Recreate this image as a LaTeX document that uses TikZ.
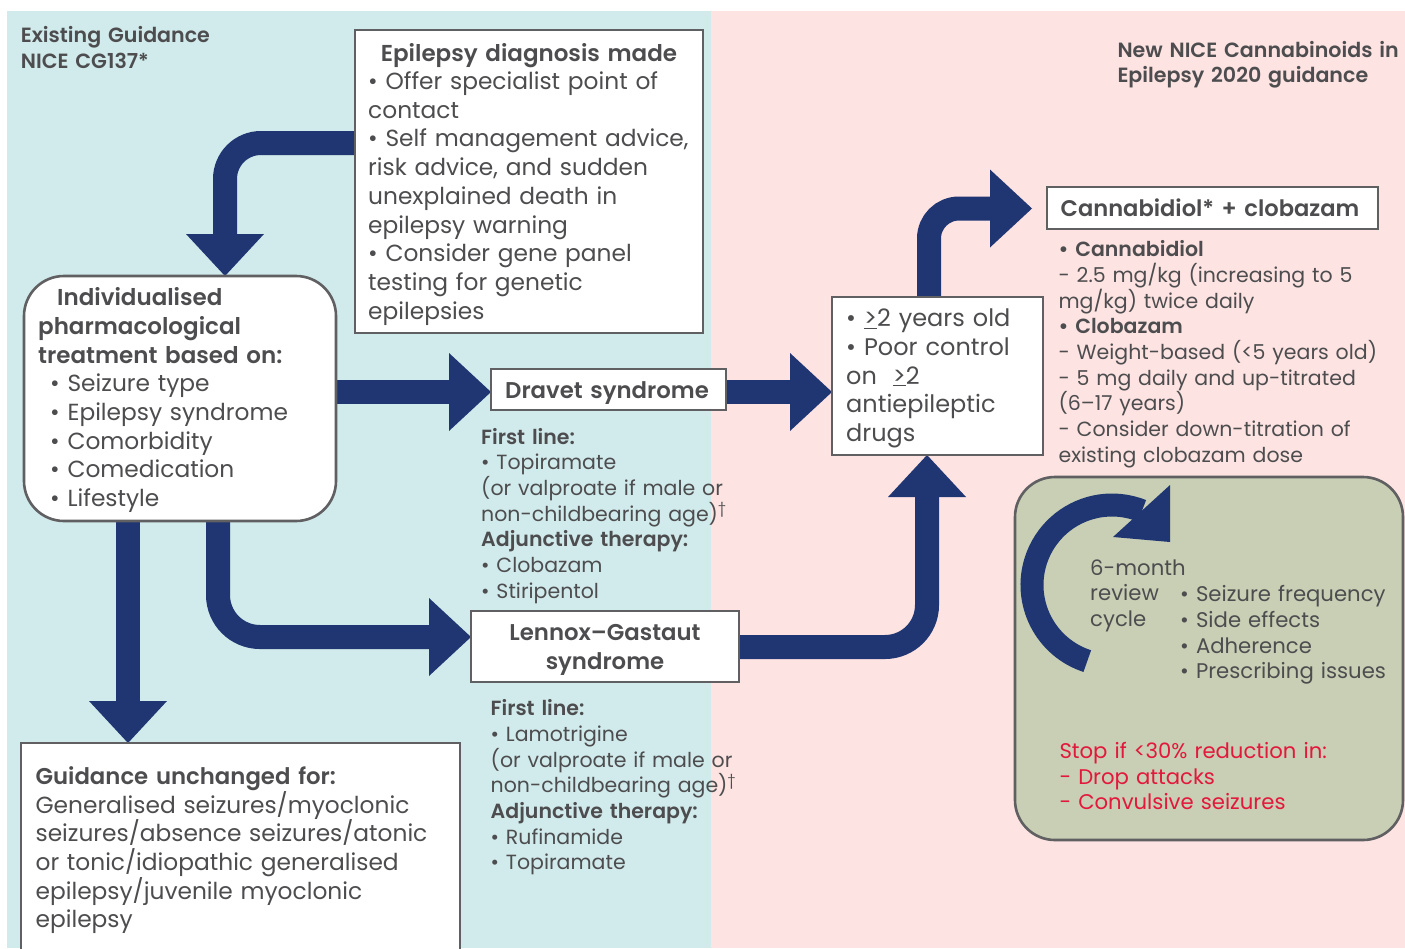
\documentclass[tikz,border=0pt]{standalone}
\usepackage{fontspec}
\setmainfont{Poppins}[BoldFont={Poppins SemiBold}]
\usetikzlibrary{arrows.meta,calc}
\definecolor{bgblue}{HTML}{D1EAEB}
\definecolor{bgpink}{HTML}{FDE3E1}
\definecolor{navy}{HTML}{1F3673}
\definecolor{txtc}{HTML}{4D4D4F}
\definecolor{brd}{HTML}{606062}
\definecolor{olivebg}{HTML}{C8CFB4}
\definecolor{redtxt}{HTML}{E2183C}
\newcommand\setfs[2]{\fontsize{#1}{#2}\selectfont}
\pgfdeclarelayer{bgl}
\pgfdeclarelayer{arr}
\pgfsetlayers{bgl,arr,main}
\tikzset{
  boxst/.style={draw=brd, line width=2.6pt, fill=white, inner sep=0pt, outer sep=0pt, anchor=north west},
  fat/.style={draw=navy, line width=24pt, -{Triangle[length=42pt,width=78pt,line width=0pt]}},
  tx/.style={anchor=base west, inner sep=0pt, align=left, text=txtc, text width=440pt},
  ctx/.style={anchor=base, inner sep=0pt, align=center, text=txtc, text width=340pt},
  body/.style={font=\setfs{23.3}{28.7}},
  bodyb/.style={font=\setfs{23}{28.7}\bfseries},
  small/.style={font=\setfs{20.5}{25.7}},
  cyc/.style={font=\setfs{21.2}{25.7}},
  head/.style={font=\setfs{20.6}{25.5}\bfseries},
}
\begin{document}
\begin{tikzpicture}[x=1pt,y=-1pt]
\useasboundingbox (0,0) rectangle (1405,948);
\begin{pgfonlayer}{bgl}
\fill[bgblue] (7,11) rectangle (711,948);
\fill[bgpink] (711,11) rectangle (1405,948);
\end{pgfonlayer}

% boxes
\node[boxst, minimum width=348pt, minimum height=303pt] (diag) at (355,30) {};
\node[boxst, rounded corners=40pt, minimum width=312pt, minimum height=245pt] (indiv) at (24,276) {};
\node[boxst, minimum width=235pt, minimum height=41pt] (dravet) at (491,369) {};
\node[boxst, minimum width=211pt, minimum height=158pt] (yrs) at (832,297) {};
\node[boxst, minimum width=331pt, minimum height=42pt] (cbd) at (1047,187) {};
\node[boxst, minimum width=268pt, minimum height=71pt] (lgs) at (471,611) {};
\node[boxst, minimum width=439pt, minimum height=240pt] (guid) at (21,743) {};
\node[boxst, fill=olivebg, rounded corners=40pt, minimum width=388pt, minimum height=363pt] (rev) at (1015,477) {};

% arrows
\begin{pgfonlayer}{arr}
\draw[fat, rounded corners=36pt] (diag.west |- 0,143) -| (225,0 |- indiv.north);
\draw[fat] (indiv.east |- 0,392) -- (dravet.west |- 0,392);
\draw[fat] (dravet.east |- 0,392) -- (yrs.west |- 0,392);
\draw[fat, rounded corners=30pt] (929,0 |- yrs.north) |- ($(cbd.west)+(-15,0.5)$);
\draw[fat] (128,0 |- indiv.south) -- (128,0 |- guid.north);
\draw[fat, rounded corners=42pt] (218,0 |- indiv.south) |- (lgs.west |- 0,637);
\draw[fat, rounded corners=42pt] (lgs.east |- 0,647) -| (927,0 |- yrs.south);
\end{pgfonlayer}

% review cycle arrow
\draw[navy, line width=23pt] (1112,585) ++(108:80) coordinate (cyc) arc[start angle=108, end angle=292, radius=80];
\fill[navy] (1170,485) -- (1113,537) -- (1170,542) -- cycle;

% texts
\node[tx, head] (hleft) at (20.7,42.7) {Existing Guidance\\NICE CG137*};
\node[tx, head] (hright) at (1117.3,57.3) {New NICE Cannabinoids in\\Epilepsy 2020 guidance};

\node[ctx, bodyb] (diagT) at (529,61) {Epilepsy diagnosis made};
\node[tx, body] (diagB) at (368,89.5) {• Offer specialist point of\\contact\\• Self management advice,\\risk advice, and sudden\\unexplained death in\\epilepsy warning\\• Consider gene panel\\testing for genetic\\epilepsies};

\node[tx, bodyb] (indivT) at (38,305.7) {\hspace*{19pt}Individualised\\pharmacological\\treatment based on:};
\node[tx, body] (indivB) at (50,391.7) {• Seizure type\\• Epilepsy syndrome\\• Comorbidity\\• Comedication\\• Lifestyle};

\node[ctx, font=\setfs{22.8}{26}\bfseries] (dravetT) at (607,398) {Dravet syndrome};
\node[tx, small] (dravetB) at (481,444) {\textbf{First line:}\\• Topiramate\\(or valproate if male or\\non-childbearing age)\textsuperscript{†}\\\textbf{Adjunctive therapy:}\\• Clobazam\\• Stiripentol};

\node[ctx, font=\setfs{22.8}{28.5}\bfseries] (lgsT) at (605,640.7) {Lennox–Gastaut\\syndrome};
\node[tx, small] (lgsB) at (490.5,715.7) {\textbf{First line:}\\• Lamotrigine\\(or valproate if male or\\non-childbearing age)\textsuperscript{†}\\\textbf{Adjunctive therapy:}\\• Rufinamide\\• Topiramate};

\node[tx, body] (guidB) at (35.4,784.3) {{\setfs{22.8}{28.7}\bfseries Guidance unchanged for:}\\Generalised seizures/myoclonic\\seizures/absence seizures/atonic\\or tonic/idiopathic generalised\\epilepsy/juvenile myoclonic\\epilepsy};

\node[tx, font=\setfs{24}{28.7}] (yrsB) at (846,326.7) {• \underline{>}2 years old\\• Poor control\\on \ \underline{>}2\\antiepileptic\\drugs};

\node[ctx, font=\setfs{22.6}{28}\bfseries] (cbdT) at (1210,216.7) {Cannabidiol* + clobazam};
\node[tx, small] (cbdB) at (1058.4,256.7) {\textbf{• Cannabidiol}\\- 2.5 mg/kg (increasing to 5\\mg/kg) twice daily\\\textbf{• Clobazam}\\- Weight-based (<5 years old)\\- 5 mg daily and up-titrated\\(6–17 years)\\- Consider down-titration of\\existing clobazam dose};

\node[tx, cyc] (cycT) at (1090,575) {6-month\\review\\cycle};
\node[tx, cyc] (cycB) at (1180,601.7) {• Seizure frequency\\• Side effects\\• Adherence\\• Prescribing issues};
\node[tx, cyc, text=redtxt] (stopT) at (1059.3,758.3) {Stop if <30\% reduction in:\\- Drop attacks\\- Convulsive seizures};
\end{tikzpicture}
\end{document}
